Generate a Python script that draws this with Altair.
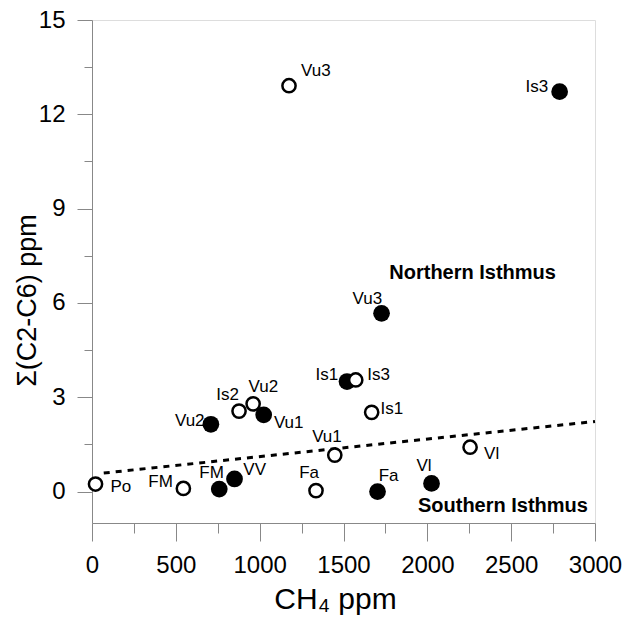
import altair as alt
import pandas as pd

# Open circles
open_lab = ["Po", "FM", "Is2", "Vu2", "Vu3", "Fa", "Vu1", "Is3", "Is1", "Vl"]
open_x = [21, 545, 877, 961, 1175, 1336, 1448, 1573, 1668, 2255]
open_y = [0.24, 0.10, 2.56, 2.79, 12.91, 0.03, 1.16, 3.55, 2.52, 1.41]

# Filled circles
filled_lab = ["Vu2", "FM", "VV", "Vu1", "Is1", "Fa", "Vu3", "Vl", "Is3"]
filled_x = [709, 759, 850, 1024, 1521, 1703, 1727, 2025, 2789]
filled_y = [2.14, 0.08, 0.40, 2.44, 3.50, 0.0, 5.67, 0.26, 12.72]

# Dotted separation line (end points)
trend_x = [70, 3000]
trend_y = [0.59, 2.23]

# Group labels
group_lab = ["Northern Isthmus", "Southern Isthmus"]
group_x = [1773, 2958]
group_y = [6.96, -0.455]

# tick values
x_major = [0, 500, 1000, 1500, 2000, 2500, 3000]
x_minor = [250, 750, 1250, 1750, 2250, 2750]
y_major = [0, 3, 6, 9, 12, 15]
y_minor = [1.5, 4.5, 7.5, 10.5, 13.5]

# label placement (pixel offsets, alignment)
open_place = [(15, 3, "left"), (-10.5, -6.6, "right"), (0, -16, "right"),
              (-4.6, -17, "left"), (12, -15, "left"), (3, -17.4, "right"),
              (7, -18.3, "right"), (11.6, -5, "left"), (8.8, -3, "left"),
              (14, 6.7, "left")]
filled_place = [(-6.3, -3.6, "right"), (4.6, -16.3, "right"), (8.8, -9, "left"),
                (10.2, 8.3, "left"), (-8.8, -6.7, "right"), (1.1, -15.6, "left"),
                (0.6, -14.3, "right"), (0, -17.3, "right"), (-11.4, -5, "right")]

open_df = pd.DataFrame({"x": open_x, "y": open_y, "lab": open_lab})
filled_df = pd.DataFrame({"x": filled_x, "y": filled_y, "lab": filled_lab})
trend_df = pd.DataFrame({"x": trend_x, "y": trend_y})

FONT = "Liberation Sans"

xs = alt.Scale(domain=[0, 3000], nice=False, zero=False)
ys = alt.Scale(domain=[-1, 15], nice=False, zero=False)

x_major_axis = alt.Axis(
    values=x_major, format="d", tickSize=18, orient="bottom",
    title="CH₄ ppm", grid=False, labelFontSize=24, titleFontSize=30,
    labelFlush=False, labelOverlap=False, labelPadding=12,
    titleX=243, titleY=85, titleBaseline="alphabetic", titleFontWeight="normal",
)
y_major_axis = alt.Axis(
    values=y_major, format="d", tickSize=15, orient="left",
    title="Σ(C2-C6) ppm", grid=False, labelFontSize=24, titleFontSize=27,
    labelFlush=False, labelOverlap=False, labelPadding=12,
    titleX=-65, titleY=280, titleAngle=270, titleAlign="center",
    titleBaseline="middle", titleFontWeight="normal",
)
x_minor_axis = alt.Axis(values=x_minor, tickSize=10, orient="bottom", labels=False,
                        domain=False, grid=False, title=None)
y_minor_axis = alt.Axis(values=y_minor, tickSize=8, orient="left", labels=False,
                        domain=False, grid=False, title=None)

trend = alt.Chart(trend_df).mark_line(
    color="black", strokeWidth=3, strokeDash=[6, 6], clip=False
).encode(
    x=alt.X("x:Q", scale=xs, axis=x_minor_axis),
    y=alt.Y("y:Q", scale=ys, axis=y_minor_axis),
)

filled = alt.Chart(filled_df).mark_point(
    shape="circle", filled=True, color="black", size=280, opacity=1, clip=False
).encode(
    x=alt.X("x:Q", scale=xs, axis=x_major_axis),
    y=alt.Y("y:Q", scale=ys, axis=y_major_axis),
)

XN = alt.X("x:Q", scale=xs, axis=None)
YN = alt.Y("y:Q", scale=ys, axis=None)

opened = alt.Chart(open_df).mark_point(
    shape="circle", filled=True, fill="white", stroke="black", strokeWidth=2.5,
    size=175, opacity=1, clip=False
).encode(x=XN, y=YN)

layers = [trend, filled, opened]

for df, place in ((open_df, open_place), (filled_df, filled_place)):
    for i, (dx, dy, align) in enumerate(place):
        layers.append(
            alt.Chart(df.iloc[[i]]).mark_text(
                align=align, baseline="middle", dx=dx, dy=dy,
                font=FONT, fontSize=17, color="black"
            ).encode(x=XN, y=YN, text="lab:N")
        )

for lab, gx, gy, align in zip(group_lab, group_x, group_y, ["left", "right"]):
    layers.append(
        alt.Chart(pd.DataFrame({"x": [gx], "y": [gy], "lab": [lab]})).mark_text(
            align=align, baseline="middle", font=FONT, fontSize=20,
            fontWeight="bold", color="black"
        ).encode(x=XN, y=YN, text="lab:N")
    )

chart = alt.layer(*layers).resolve_axis(
    x="independent", y="independent"
).properties(
    width=503, height=503,
    autosize=alt.AutoSizeParams(type="none"),
    padding={"left": 92, "top": 20, "right": 36, "bottom": 102},
).configure_view(
    stroke="black", strokeWidth=2.5
).configure_axis(
    domainColor="black", domainWidth=3, tickColor="black", tickWidth=2.5,
    labelColor="black", titleColor="black", labelFont=FONT, titleFont=FONT,
).configure(background="white")

chart.save("out.html", embed_options={"renderer": "svg", "actions": False})
